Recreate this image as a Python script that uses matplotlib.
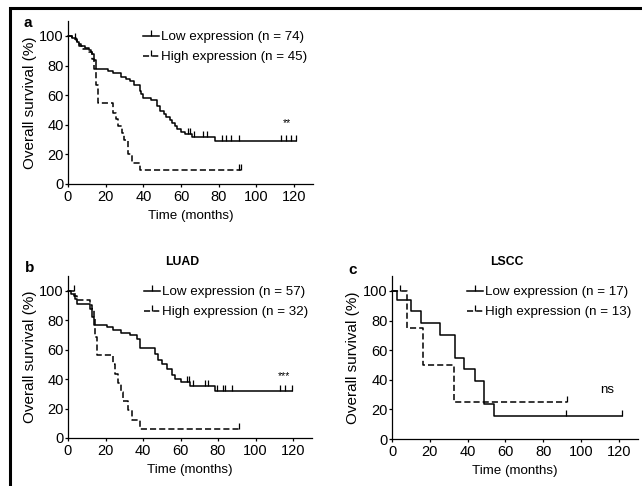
import numpy as np
import matplotlib
matplotlib.use('Agg')
import matplotlib.pyplot as plt
from matplotlib.lines import Line2D
from matplotlib.patches import Rectangle

plt.rcParams['font.family'] = ['Liberation Sans', 'DejaVu Sans']
plt.rcParams['font.size'] = 9.6

# panel a: all patients
a_low_t = [0, 2, 4, 5, 6, 7, 9, 11, 12, 13, 14, 15, 21, 24, 28, 31, 33, 35, 38, 39, 40, 44, 47, 49, 51, 52, 54, 55, 57, 58, 60, 62, 66, 78, 121]
a_low_s = [100, 98.6, 97.3, 95.9, 94.6, 93.2, 91.9, 90.5, 89.2, 87.8, 83.8, 77.5, 76.1, 74.7, 72.6, 71.2, 69.8, 67.0, 63.0, 60.5, 58.0, 57.0, 53.0, 49.0, 47.0, 45.0, 43.0, 41.0, 39.0, 37.0, 35.0, 34.0, 32.0, 29.0, 29.0]
a_low_cens = [63.5, 64.5, 67, 71.5, 74, 81.5, 84, 86.5, 91, 113, 115.7, 118.4, 121]
a_high_t = [0, 2, 5, 6, 8, 11, 13, 14, 15, 16, 24, 25.5, 26.5, 28.5, 29.5, 32, 34, 38, 92]
a_high_s = [100, 97.8, 95.6, 93.3, 91.1, 88.9, 84.4, 77.8, 66.7, 54.7, 48.0, 44.0, 39.0, 34.5, 29.5, 20.0, 14.5, 9.5, 9.5]
a_high_cens = [3.5, 91, 92]

# panel b: LUAD
b_low_t = [0, 1.5, 3, 4, 5, 12, 13, 14, 21, 24, 28, 33, 37, 38.5, 46.5, 48, 50, 53, 55.5, 57, 60, 65, 78.5, 119.5]
b_low_s = [100, 98.2, 96.5, 94.7, 91.2, 87.7, 82.5, 77.2, 75.8, 73.5, 71.7, 70.0, 67.0, 61.0, 57.0, 53.0, 50.0, 47.0, 43.0, 40.0, 38.0, 35.5, 31.8, 31.8]
b_low_cens = [63.3, 64.7, 66.7, 73, 74.7, 79.3, 82.8, 83.7, 87.3, 113, 115.7, 119.5]
b_high_t = [0, 4, 5, 12, 13, 14, 14.5, 15.3, 24, 25, 26.8, 28, 29.5, 32, 34, 38.4, 91]
b_high_s = [100, 96.9, 93.8, 90.6, 87.5, 81.2, 68.8, 56.2, 50.0, 43.8, 37.5, 31.2, 25.0, 18.8, 12.5, 6.2, 6.2]
b_high_cens = [3, 91]

# panel c: LSCC
c_low_t = [0, 2.5, 10, 15.3, 25.4, 33.3, 38.3, 43.9, 48.8, 54, 121.5]
c_low_s = [100, 94.1, 86.3, 78.4, 70.6, 54.9, 47.1, 39.2, 23.5, 15.7, 15.7]
c_low_cens = [92, 121.5]
c_high_t = [0, 8, 16.2, 33, 92.6]
c_high_s = [100, 75, 50, 25, 25]
c_high_cens = [4.2, 92.6]

x_ticks = [0, 20, 40, 60, 80, 100, 120]
y_ticks = [0, 20, 40, 60, 80, 100]

DASH = (0, (4, 2))


def km(ax, t, s, cens, ls):
    t = np.array(t)
    s = np.array(s)
    ax.plot(t, s, drawstyle='steps-post', color='black', lw=1.1, linestyle=ls, clip_on=False)
    idx = np.searchsorted(t, cens, side='right') - 1
    idx = np.clip(idx, 0, len(s) - 1)
    ax.plot(cens, s[idx], linestyle='none', marker=2, color='black', ms=4, mew=0.9, clip_on=False)


def style(ax, ylab_x):
    ax.set_xlim(0, 130)
    ax.set_ylim(0, 110)
    ax.set_xticks(x_ticks)
    ax.set_yticks(y_ticks)
    for side in ['top', 'right']:
        ax.spines[side].set_visible(False)
    for side in ['left', 'bottom']:
        ax.spines[side].set_linewidth(0.9)
    ax.tick_params(direction='out', length=2.5, width=0.9, labelsize=10.5)
    ax.tick_params(axis='x', pad=2)
    ax.tick_params(axis='y', pad=0.6)
    ax.set_xlabel('Time (months)', fontsize=9.6, labelpad=4)
    ax.set_ylabel('Overall survival (%)', fontsize=11)
    ax.yaxis.set_label_coords(ylab_x, 0.5)


def legend(ax, n_low, n_high, x0):
    h = [Line2D([], [], color='black', lw=1.1, marker=2, ms=4, mew=0.9),
         Line2D([], [], color='black', lw=1.1, ls=DASH, marker=2, ms=4, mew=0.9)]
    ax.legend(h, [f'Low expression (n = {n_low})', f'High expression (n = {n_high})'],
              loc='upper left', bbox_to_anchor=(x0, 0.94), frameon=False,
              handlelength=1.2, handletextpad=0.15, labelspacing=0.58,
              borderpad=0, borderaxespad=0, fontsize=9.6)


fig = plt.figure(figsize=(6.42, 4.86), dpi=100)

ax_a = fig.add_axes([0.1059, 0.6214, 0.3816, 0.335])
ax_b = fig.add_axes([0.1059, 0.0988, 0.3798, 0.3327])
ax_c = fig.add_axes([0.6106, 0.0967, 0.3827, 0.335])

km(ax_a, a_low_t, a_low_s, a_low_cens, '-')
km(ax_a, a_high_t, a_high_s, a_high_cens, DASH)
style(ax_a, -0.127)
legend(ax_a, 74, 45, 0.305)
ax_a.text(116, 41, '**', ha='center', va='center', fontsize=7.5)

km(ax_b, b_low_t, b_low_s, b_low_cens, '-')
km(ax_b, b_high_t, b_high_s, b_high_cens, DASH)
style(ax_b, -0.127)
legend(ax_b, 57, 32, 0.31)
ax_b.text(115, 42, '***', ha='center', va='center', fontsize=7.5)
ax_b.set_title('LUAD', fontsize=8.8, fontweight='bold', pad=8, x=61 / 130)

km(ax_c, c_low_t, c_low_s, c_low_cens, '-')
km(ax_c, c_high_t, c_high_s, c_high_cens, DASH)
style(ax_c, -0.13)
legend(ax_c, 17, 13, 0.304)
ax_c.text(114, 33, 'ns', ha='center', va='center', fontsize=9.6)
ax_c.set_title('LSCC', fontsize=8.8, fontweight='bold', pad=8, x=61 / 130)

fig.text(28 / 642, 1 - 23 / 486, 'a', fontsize=11, fontweight='bold', ha='center', va='center')
fig.text(30 / 642, 1 - 268 / 486, 'b', fontsize=11, fontweight='bold', ha='center', va='center')
fig.text(353 / 642, 1 - 270 / 486, 'c', fontsize=11, fontweight='bold', ha='center', va='center')

# outer frame (only top and left edges fall inside the image)
fig.patches.append(Rectangle((10 / 642, -0.1), 1.2, 1 - 8 / 486 + 0.1, transform=fig.transFigure,
                             fill=False, edgecolor='black', lw=2.2))

fig.savefig('out.png', dpi=100)
